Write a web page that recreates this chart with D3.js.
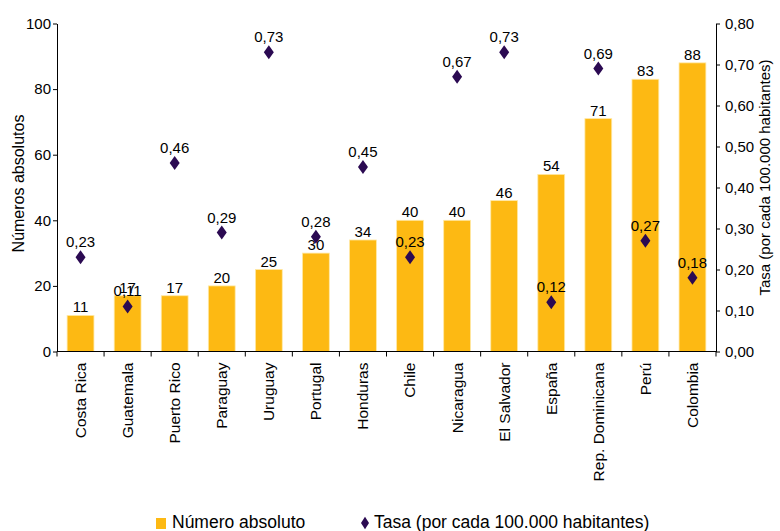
<!DOCTYPE html>
<html>
<head>
<meta charset="utf-8">
<script src="https://cdn.jsdelivr.net/npm/d3@7"></script>
<style>
  body { margin: 0; background: #fff; }
  text { font-family: "Liberation Sans", Arial, sans-serif; fill: #000; }
</style>
</head>
<body>
<div id="chart"></div>
<script>
const countries = ["Costa Rica", "Guatemala", "Puerto Rico", "Paraguay", "Uruguay", "Portugal", "Honduras",
  "Chile", "Nicaragua", "El Salvador", "España", "Rep. Dominicana", "Perú", "Colombia"];
const absolutos = [11, 17, 17, 20, 25, 30, 34, 40, 40, 46, 54, 71, 83, 88];
const tasas = [0.23, 0.11, 0.46, 0.29, 0.73, 0.28, 0.45, 0.23, 0.67, 0.73, 0.12, 0.69, 0.27, 0.18];
const leftTicks = [0, 20, 40, 60, 80, 100];
const rightTicks = [0, 0.1, 0.2, 0.3, 0.4, 0.5, 0.6, 0.7, 0.8];

const width = 780, height = 531;
const margin = {top: 23.5, right: 64, bottom: 179.5, left: 57};
const barColor = "#fdb913", rateColor = "#2b0a52";
const coma = d3.format(".2f");
const fmtRate = v => coma(v).replace(".", ",");

const data = countries.map((c, i) => ({pais: c, abs: absolutos[i], tasa: tasas[i]}));

const svg = d3.select("#chart").append("svg")
  .attr("width", width)
  .attr("height", height);

const x = d3.scaleBand()
  .domain(countries)
  .range([margin.left, width - margin.right])
  .paddingInner(0.43)
  .paddingOuter(0.215);

const y = d3.scaleLinear().domain([0, 100]).range([height - margin.bottom, margin.top]);
const y2 = d3.scaleLinear().domain([0, 0.8]).range([height - margin.bottom, margin.top]);

// bars
svg.selectAll(".bar")
  .data(data)
  .enter().append("rect")
  .attr("class", "bar")
  .attr("x", d => x(d.pais))
  .attr("width", x.bandwidth())
  .attr("y", d => y(d.abs))
  .attr("height", d => y(0) - y(d.abs))
  .attr("fill", barColor)
  .attr("stroke", "#ffe9a6")
  .attr("stroke-width", 0.8);

svg.selectAll(".bar-label")
  .data(data)
  .enter().append("text")
  .attr("class", "bar-label")
  .attr("x", d => x(d.pais) + x.bandwidth() / 2)
  .attr("y", d => y(d.abs) - 3)
  .attr("text-anchor", "middle")
  .style("font-size", "15px")
  .text(d => d.abs);

// diamonds
const diamond = "M0,-7L5,0L0,7L-5,0Z";
svg.selectAll(".rate")
  .data(data)
  .enter().append("path")
  .attr("class", "rate")
  .attr("d", diamond)
  .attr("transform", d => `translate(${x(d.pais) + x.bandwidth() / 2},${y2(d.tasa)})`)
  .attr("fill", rateColor);

svg.selectAll(".rate-label")
  .data(data)
  .enter().append("text")
  .attr("class", "rate-label")
  .attr("x", d => x(d.pais) + x.bandwidth() / 2)
  .attr("y", d => y2(d.tasa) - 10)
  .attr("text-anchor", "middle")
  .style("font-size", "15px")
  .text(d => fmtRate(d.tasa));

// axes
const yAxis = svg.append("g")
  .attr("transform", `translate(${margin.left},0)`)
  .call(d3.axisLeft(y).tickValues(leftTicks).tickSize(4).tickPadding(2).tickSizeOuter(0));

const y2Axis = svg.append("g")
  .attr("transform", `translate(${width - margin.right},0)`)
  .call(d3.axisRight(y2).tickValues(rightTicks).tickSize(4).tickPadding(5).tickSizeOuter(0)
    .tickFormat(fmtRate));

[yAxis, y2Axis].forEach(g => {
  g.selectAll("text").style("font-size", "15px").attr("font-family", null);
  g.selectAll("line, path").attr("stroke", "#000");
});

// x axis with ticks between categories
const xAxis = svg.append("g");
xAxis.append("line")
  .attr("x1", margin.left).attr("x2", width - margin.right)
  .attr("y1", y(0)).attr("y2", y(0))
  .attr("stroke", "#000");
const step = x.step();
xAxis.selectAll(".xtick")
  .data(d3.range(countries.length + 1))
  .enter().append("line")
  .attr("x1", i => margin.left + i * step)
  .attr("x2", i => margin.left + i * step)
  .attr("y1", y(0)).attr("y2", y(0) + 5)
  .attr("stroke", "#000");

xAxis.selectAll(".xlabel")
  .data(countries)
  .enter().append("text")
  .attr("transform", d => `translate(${x(d) + x.bandwidth() / 2},${y(0) + 11}) rotate(-90)`)
  .attr("text-anchor", "end")
  .attr("dy", "0.35em")
  .style("font-size", "15.5px")
  .text(d => d);

// axis titles
svg.append("text")
  .attr("transform", `translate(18,${(margin.top + y(0)) / 2 - 4}) rotate(-90)`)
  .attr("text-anchor", "middle")
  .attr("dy", "0.35em")
  .style("font-size", "16px")
  .text("Números absolutos");

svg.append("text")
  .attr("transform", `translate(765,${(margin.top + y(0)) / 2 - 10}) rotate(-90)`)
  .attr("text-anchor", "middle")
  .attr("dy", "0.35em")
  .style("font-size", "15px")
  .text("Tasa (por cada 100.000 habitantes)");

// legend
const legend = svg.append("g").attr("transform", "translate(0,522)");
legend.append("rect")
  .attr("x", 156).attr("y", -4).attr("width", 10).attr("height", 11)
  .attr("fill", barColor);
legend.append("text")
  .attr("x", 172).attr("y", 0).attr("dy", "0.35em")
  .style("font-size", "17.5px")
  .text("Número absoluto");
legend.append("path")
  .attr("d", diamond)
  .attr("transform", "translate(365,1) scale(0.8,0.9)")
  .attr("fill", rateColor);
legend.append("text")
  .attr("x", 374).attr("y", 0).attr("dy", "0.35em")
  .style("font-size", "17.5px")
  .text("Tasa (por cada 100.000 habitantes)");
</script>
</body>
</html>
